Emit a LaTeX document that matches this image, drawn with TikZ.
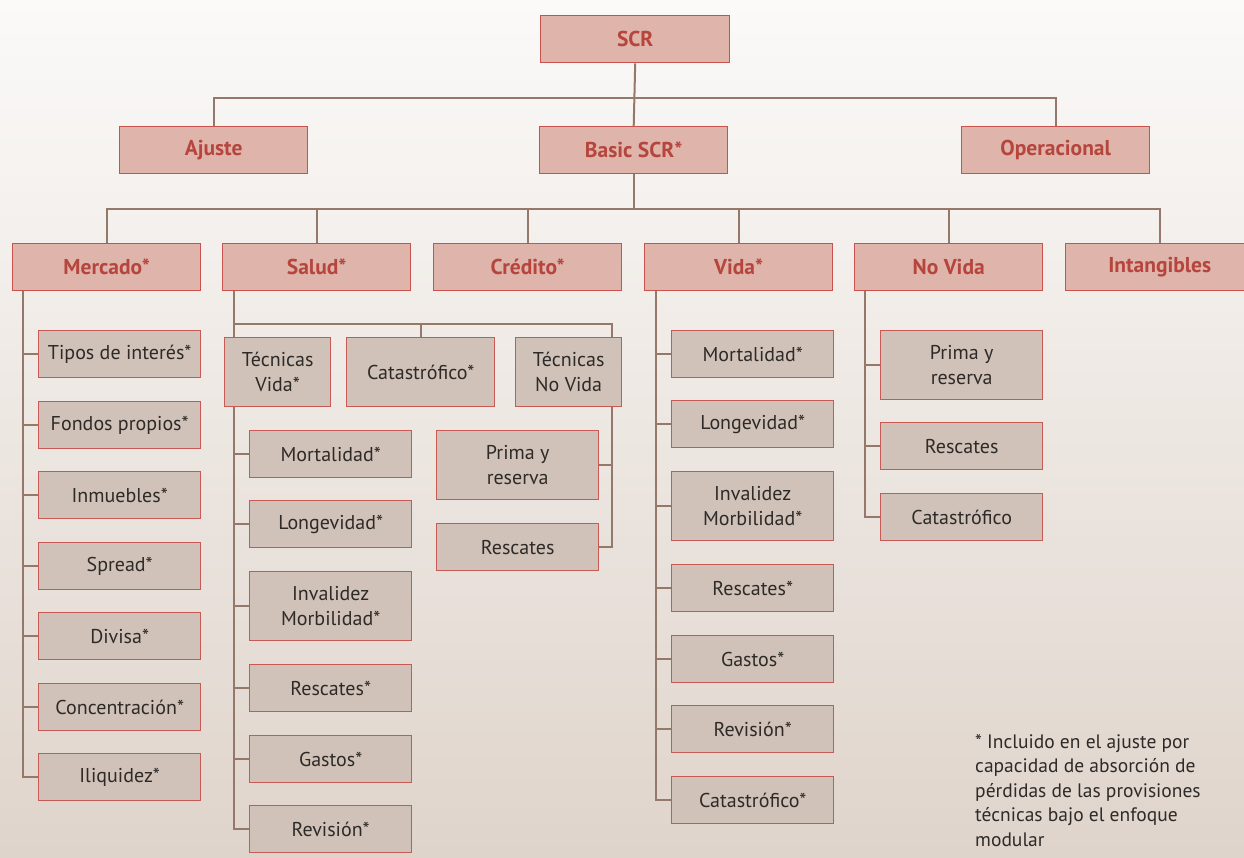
\documentclass[tikz,border=0pt]{standalone}
\usepackage{fontspec}
\setmainfont{PT Sans}
\definecolor{hdrfill}{HTML}{DFB4AB}
\definecolor{hdrline}{HTML}{C8534E}
\definecolor{hdrtext}{HTML}{B5453D}
\definecolor{subfill}{HTML}{D0C2B8}
\definecolor{subline}{HTML}{C85A55}
\definecolor{subtext}{HTML}{2E2A28}
\definecolor{linec}{HTML}{94796A}
\definecolor{bgtop}{HTML}{FBFAF9}
\definecolor{bgbot}{HTML}{DFD4CB}
\begin{document}
\begin{tikzpicture}[x=1pt,y=-1pt,
  hdr/.style={draw=hdrline, fill=hdrfill, line width=1.4pt, text=hdrtext,
    font=\bfseries\fontsize{21.5}{24}\selectfont, inner sep=0pt,
    minimum width=188, minimum height=47, anchor=north west},
  sub/.style={draw=subline, fill=subfill, line width=1.4pt, text=subtext,
    font=\fontsize{20}{25}\selectfont, inner sep=0pt,
    minimum width=162, minimum height=47, anchor=north west, align=center},
  tall/.style={minimum height=69},
  conn/.style={draw=linec, line width=2pt}]
\useasboundingbox (0,0) rectangle (1244,857);
\clip (0,0) rectangle (1244,857);
\shade[top color=bgtop, bottom color=bgbot] (0,0) rectangle (1244,857);

% level 1 and 2
\node[hdr, minimum width=189] (scr) at (540,15) {SCR};
\node[hdr] (ajuste) at (119,126) {Ajuste};
\node[hdr] (basic) at (539,126) {Basic SCR*};
\node[hdr] (oper) at (961,126) {Operacional};

% level 3
\node[hdr] (mercado) at (12,243) {Mercado*};
\node[hdr] (salud) at (222,243) {Salud*};
\node[hdr] (credito) at (433,243) {Crédito*};
\node[hdr] (vida) at (644,243) {Vida*};
\node[hdr] (novida) at (854,243) {No Vida};
\node[hdr] (intang) at (1065,243) {Intangibles};

% Mercado children
\node[sub] (m1) at (38,330) {Tipos de interés*};
\node[sub] (m2) at (38,401) {Fondos propios*};
\node[sub] (m3) at (38,471) {Inmuebles*};
\node[sub] (m4) at (38,542) {Spread*};
\node[sub] (m5) at (38,612) {Divisa*};
\node[sub] (m6) at (38,683) {Concentración*};
\node[sub] (m7) at (38,753) {Iliquidez*};

% Salud children
\node[sub, tall, minimum width=106] (tv) at (224,337) {Técnicas\\Vida*};
\node[sub, tall, minimum width=148] (cat) at (346,337) {Catastrófico*};
\node[sub, tall, minimum width=106] (tnv) at (515,337) {Técnicas\\No Vida};
\node[sub, tall] (p1) at (436,430) {Prima y\\reserva};
\node[sub] (r1) at (436,523) {Rescates};

\node[sub] (t1) at (249,430) {Mortalidad*};
\node[sub] (t2) at (249,500) {Longevidad*};
\node[sub, tall] (t3) at (249,571) {Invalidez\\Morbilidad*};
\node[sub] (t4) at (249,664) {Rescates*};
\node[sub] (t5) at (249,735) {Gastos*};
\node[sub] (t6) at (249,805) {Revisión*};

% Vida children
\node[sub] (v1) at (671,330) {Mortalidad*};
\node[sub] (v2) at (671,400) {Longevidad*};
\node[sub, tall] (v3) at (671,471) {Invalidez\\Morbilidad*};
\node[sub] (v4) at (671,564) {Rescates*};
\node[sub] (v5) at (671,635) {Gastos*};
\node[sub] (v6) at (671,705) {Revisión*};
\node[sub] (v7) at (671,776) {Catastrófico*};

% No Vida children
\node[sub, tall] (n1) at (880,330) {Prima y\\reserva};
\node[sub] (n2) at (880,422) {Rescates};
\node[sub] (n3) at (880,493) {Catastrófico};

% footnote
\node[anchor=north west, align=left, inner sep=0pt, text=subtext,
  font=\fontsize{19.5}{24.5}\selectfont] (note) at (975,734)
  {* Incluido en el ajuste por\\capacidad de absorción de\\pérdidas de las provisiones\\técnicas bajo el enfoque\\modular};

% connectors top
\draw[conn] (scr.south) -- (basic.north);
\draw[conn] (ajuste.north) -- ++(0,-28) -| (oper.north);
\draw[conn] (basic.south) -- ++(0,35) coordinate (b3);
\draw[conn] (mercado.north) -- (mercado.north |- b3) -| (intang.north);
\foreach \n in {salud,credito,vida,novida}
  \draw[conn] (\n.north) -- (\n.north |- b3);

% Mercado trunk
\coordinate (mt) at (23,0);
\draw[conn] (mercado.south -| mt) |- (m7.west);
\foreach \n in {m1,m2,m3,m4,m5,m6}
  \draw[conn] (\n.west) -- (\n.west -| mt);

% Salud
\coordinate (st) at (234,0);
\coordinate (sbar) at (0,324);
\coordinate (nt) at (612,0);
\draw[conn] (salud.south -| st) -- (tv.north -| st);
\draw[conn] (sbar -| st) -- (sbar -| nt) -- (tnv.north -| nt);
\draw[conn] (cat.north) -- (cat.north |- sbar);
\draw[conn] (tnv.south -| nt) |- (r1.east);
\draw[conn] (p1.east) -- (p1.east -| nt);
\draw[conn] (tv.south -| st) |- (t6.west);
\foreach \n in {t1,t2,t3,t4,t5}
  \draw[conn] (\n.west) -- (\n.west -| st);

% Vida
\coordinate (vt) at (656,0);
\draw[conn] (vida.south -| vt) |- (v7.west);
\foreach \n in {v1,v2,v3,v4,v5,v6}
  \draw[conn] (\n.west) -- (\n.west -| vt);

% No Vida
\coordinate (nvt) at (865,0);
\draw[conn] (novida.south -| nvt) |- (n3.west);
\foreach \n in {n1,n2}
  \draw[conn] (\n.west) -- (\n.west -| nvt);
\end{tikzpicture}
\end{document}
